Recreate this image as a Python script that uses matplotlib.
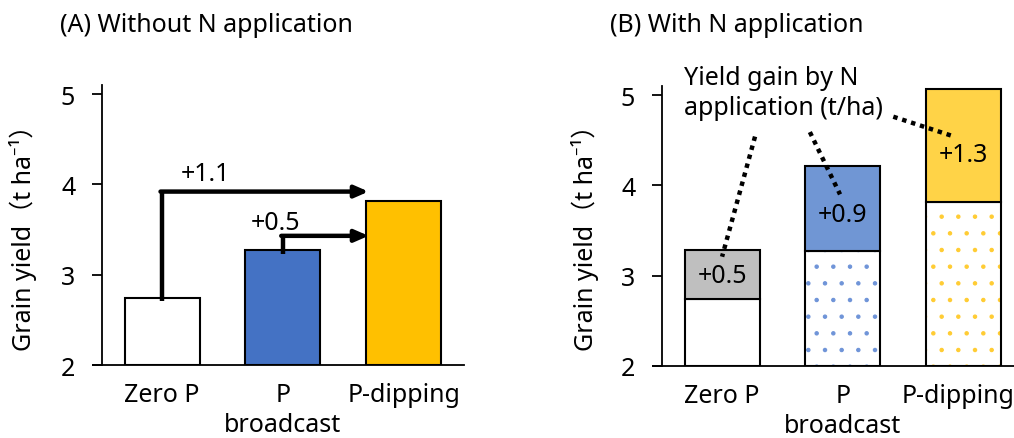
import matplotlib
matplotlib.use('Agg')
import matplotlib.pyplot as plt
from matplotlib.transforms import ScaledTranslation

plt.rcParams['font.family'] = ['Noto Sans', 'Noto Sans CJK JP', 'DejaVu Sans']
plt.rcParams['hatch.linewidth'] = 0.8

# data
categories = ['Zero P', 'P\nbroadcast', 'P-dipping']
yield_without_n = [2.74, 3.27, 3.82]
yield_with_n = [3.28, 4.21, 5.07]
gain_labels = ['+0.5', '+0.9', '+1.3']
gain_label_y = [3.0, 3.68, 4.34]
p_gain_labels = ['+1.1', '+0.5']

base_colors = ['white', '#4472C4', '#FFC000']
dot_colors = ['white', '#6F94D8', '#FFCC33']
top_colors = ['#BFBFBF', '#7096D4', '#FFD347']

FS = 18
W, H = 1014, 439
fig = plt.figure(figsize=(W / 100, H / 100), dpi=100)

ax_w = 3 * 120.75 / W


def style_axis(ax):
    ax.set_xlim(-0.5, 2.5)
    ax.set_ylim(2, 5.1)
    ax.set_yticks([2, 3, 4, 5])
    ax.set_xticks(range(3))
    ax.set_xticklabels(categories, fontsize=FS, linespacing=1.3)
    ax.tick_params(axis='x', length=0, pad=12)
    ax.tick_params(axis='y', labelsize=FS, length=7, width=1.3, pad=12)
    for s in ['top', 'right']:
        ax.spines[s].set_visible(False)
    ax.spines['left'].set_linewidth(1.3)
    ax.spines['bottom'].set_linewidth(1.3)
    ax.spines['bottom'].set_bounds(-0.575, 2.5)


# (A) without N
axA = fig.add_axes([101.7 / W, 1 - 366 / H, ax_w, 280 / H])
style_axis(axA)
axA.bar(range(3), [v - 2 for v in yield_without_n], bottom=2, width=0.62,
        color=base_colors, edgecolor='black', linewidth=1.5, zorder=2)

# arrows: zero P -> P-dipping, P broadcast -> P-dipping
arrow_x0 = [0.0, 1.0]
arrow_ystart = [2.71, 3.23]
arrow_ycorner = [3.92, 3.43]
tip_x = 1.71
for x0, ys, yc in zip(arrow_x0, arrow_ystart, arrow_ycorner):
    axA.plot([x0, x0], [ys, yc + 0.02], color='black', lw=3.2,
             solid_capstyle='butt', zorder=3)
    axA.annotate('', xy=(tip_x, yc), xytext=(x0 - 0.013, yc),
                 arrowprops=dict(arrowstyle='-|>,head_length=0.8,head_width=0.35',
                                 lw=3.2, color='black', shrinkA=0, shrinkB=0),
                 zorder=3)
axA.text(0.36, 4.12, p_gain_labels[0], fontsize=FS, ha='center', va='center')
axA.text(0.94, 3.58, p_gain_labels[1], fontsize=FS, ha='center', va='center')

# (B) with N
axB = fig.add_axes([661.7 / W, 1 - 367 / H, ax_w, 280 / H])
style_axis(axB)
# last label touches the figure edge in the original; nudge it in a bit
lab = axB.get_xticklabels()[2]
lab.set_transform(lab.get_transform() + ScaledTranslation(-6 / 100, 0, fig.dpi_scale_trans))

for i in range(3):
    base = yield_without_n[i]
    if i == 0:
        axB.bar(i, base - 2, bottom=2, width=0.62, color='white', zorder=2)
    else:
        axB.bar(i, base - 2, bottom=2, width=0.62, facecolor='white',
                edgecolor=dot_colors[i], hatch='.', linewidth=0, zorder=2)
    axB.bar(i, base - 2, bottom=2, width=0.62, fill=False,
            edgecolor='black', linewidth=1.5, zorder=3)
    axB.bar(i, yield_with_n[i] - base, bottom=base, width=0.62,
            color=top_colors[i], edgecolor='black', linewidth=1.5, zorder=3)
    axB.text(i, gain_label_y[i], gain_labels[i], fontsize=FS,
             ha='center', va='center', zorder=4)

# dotted leader lines from the note
leader_x = [(0.273, 0.0), (0.727, 0.977), (1.418, 1.90)]
leader_y = [(4.54, 3.21), (4.59, 3.90), (4.76, 4.55)]
for lx, ly in zip(leader_x, leader_y):
    axB.plot(lx, ly, color='black', lw=3.2, linestyle=(0, (1, 1.1)),
             dash_capstyle='butt', zorder=5, clip_on=False)
axB.text(-0.315, 5.33, 'Yield gain by N\napplication (t/ha)', fontsize=FS,
         ha='left', va='top', linespacing=1.25, clip_on=False)

# titles and y labels
fig.text(60 / W, 1 - 25 / H, '(A) Without N application', fontsize=FS,
         ha='left', va='center')
fig.text(610 / W, 1 - 25 / H, '(B) With N application', fontsize=FS,
         ha='left', va='center')
ylab = 'Grain yield（t ha⁻¹）'
fig.text(23 / W, 1 - 232 / H, ylab, fontsize=FS, rotation=90,
         ha='center', va='center')
fig.text(585 / W, 1 - 232 / H, ylab, fontsize=FS, rotation=90,
         ha='center', va='center')

fig.savefig('out.png', dpi=100)
